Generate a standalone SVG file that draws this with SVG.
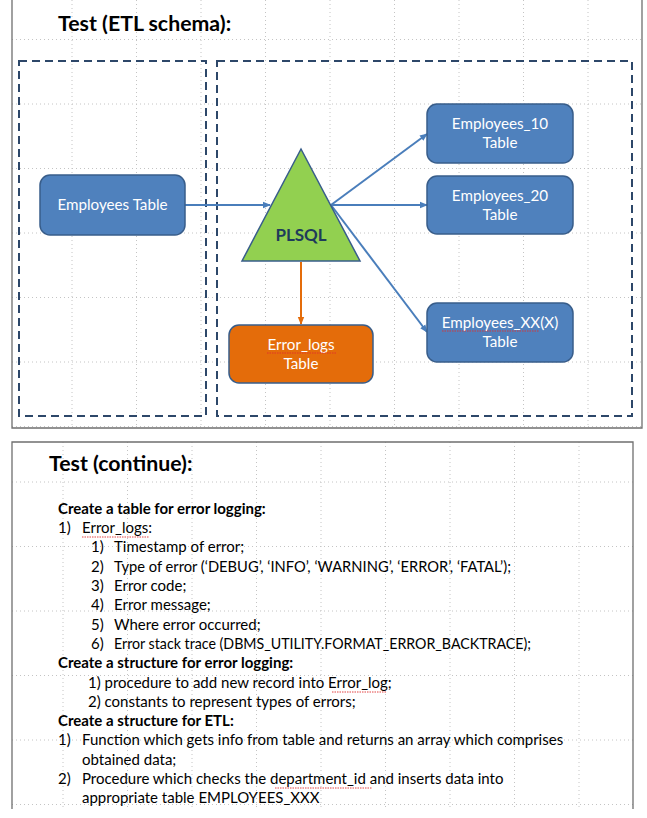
<svg xmlns="http://www.w3.org/2000/svg" width="647" height="818" viewBox="0 0 647 818">
<style>
.grid{stroke:#c4c4c4;stroke-width:1;stroke-dasharray:1 3;fill:none}
.panel{fill:none;stroke:#6f6f6f;stroke-width:1.3}
.dash{fill:none;stroke:#2d4769;stroke-width:2;stroke-dasharray:8 5}
.box{fill:#4f81bd;stroke:#385d8a;stroke-width:1.5}
.obox{fill:#e46c0a;stroke:#385d8a;stroke-width:1.5}
.tri{fill:#92d050;stroke:#385d8a;stroke-width:1.5}
.nt{font-family:Lato,"Liberation Sans",sans-serif;font-size:15.2px;fill:#ffffff;text-anchor:middle}
.title{font-family:Lato,"Liberation Sans",sans-serif;font-size:21.3px;font-weight:bold;fill:#000}
.bt{font-family:Lato,"Liberation Sans",sans-serif;font-size:15px;fill:#000}
.bb{font-weight:bold}
.blue{stroke:#4a7ebb;stroke-width:2;fill:none}
.orange{stroke:#e46c0a;stroke-width:2;fill:none}
.sq{stroke:#e03030;stroke-width:0.9;fill:none;stroke-dasharray:1.5 1}
</style>
<defs>
<marker id="ab" markerWidth="8" markerHeight="8" refX="7" refY="4" orient="auto" markerUnits="userSpaceOnUse"><path d="M0,0.8 L8,4 L0,7.2 Z" fill="#4a7ebb"/></marker>
<marker id="ao" markerWidth="8" markerHeight="8" refX="7" refY="4" orient="auto" markerUnits="userSpaceOnUse"><path d="M0,0.8 L8,4 L0,7.2 Z" fill="#e46c0a"/></marker>
<clipPath id="c1"><rect x="12" y="0" width="630" height="428"/></clipPath>
<clipPath id="c2"><rect x="12" y="442" width="621" height="367"/></clipPath>
</defs>
<rect width="647" height="818" fill="#ffffff"/>
<g id="grid-top" clip-path="url(#c1)">
<path class="grid" d="M72,0V428M136.5,0V428M201,0V428M265.5,0V428M330,0V428M394.5,0V428M459,0V428M523.5,0V428M588,0V428M12,39.5H642M12,104H642M12,168.5H642M12,233H642M12,297.5H642M12,362H642M12,426.5H642"/>
</g>
<g id="grid-bottom" clip-path="url(#c2)">
<path class="grid" d="M63,442V809M127.5,442V809M192,442V809M256.5,442V809M321,442V809M385.5,442V809M450,442V809M514.5,442V809M579,442V809M12,482H633M12,546.5H633M12,611H633M12,675.5H633M12,740H633M12,804.5H633"/>
</g>
<g id="panel-top">
<path class="panel" d="M12,0V428H642V0"/>
<text class="title" x="58" y="31">Test (ETL schema):</text>
<rect class="dash" x="19" y="61" width="187" height="355"/>
<rect class="dash" x="217" y="61" width="415" height="355"/>
</g>
<g id="panel-bottom">
<path class="panel" d="M12,809V442H633V809"/>
</g>
<g id="connectors">
<path class="blue" d="M185,205H270" marker-end="url(#ab)"/>
<path class="blue" d="M331,205L427,134" marker-end="url(#ab)"/>
<path class="blue" d="M331,205H427" marker-end="url(#ab)"/>
<path class="blue" d="M331,205L427,332" marker-end="url(#ab)"/>
<path class="orange" d="M301,262V324" marker-end="url(#ao)"/>
</g>
<g id="employees">
<rect class="box" x="40" y="175" width="145" height="60" rx="10"/>
<text class="nt" x="112.5" y="210">Employees Table</text>
</g>
<g id="plsql">
<polygon class="tri" points="301,149 360,261 242,261"/>
<text x="301" y="241" text-anchor="middle" font-family="Lato,'Liberation Sans',sans-serif" font-size="17px" font-weight="bold" fill="#1f3b5a">PLSQL</text>
</g>
<g id="error-logs">
<rect class="obox" x="229" y="325" width="144" height="58" rx="10"/>
<text class="nt" x="301" y="350">Error_logs</text>
<text class="nt" x="301" y="369">Table</text>
<path class="sq" d="M267,353H336"/>
</g>
<g id="employees-10">
<rect class="box" x="427" y="104" width="146" height="59" rx="10"/>
<text class="nt" x="500" y="129">Employees_10</text>
<text class="nt" x="500" y="148">Table</text>
</g>
<g id="employees-20">
<rect class="box" x="427" y="176" width="146" height="58" rx="10"/>
<text class="nt" x="500" y="201">Employees_20</text>
<text class="nt" x="500" y="220">Table</text>
</g>
<g id="employees-xx">
<rect class="box" x="427" y="303" width="146" height="59" rx="10"/>
<text class="nt" x="500" y="328">Employees_XX(X)</text>
<text class="nt" x="500" y="347">Table</text>
<path class="sq" d="M442,331H539"/>
</g>
<g id="notes">
<text class="title" x="49" y="471">Test (continue):</text>
<text class="bt bb" x="58" y="514">Create a table for error logging:</text>
<text class="bt" x="58" y="533">1)</text><text class="bt" x="82" y="533">Error_logs:</text>
<text class="bt" x="91" y="552">1)</text><text class="bt" x="114" y="552">Timestamp of error;</text>
<text class="bt" x="91" y="572">2)</text><text class="bt" x="114" y="572" textLength="397" lengthAdjust="spacingAndGlyphs">Type of error (‘DEBUG’, ‘INFO’, ‘WARNING’, ‘ERROR’, ‘FATAL’);</text>
<text class="bt" x="91" y="591">3)</text><text class="bt" x="114" y="591">Error code;</text>
<text class="bt" x="91" y="610">4)</text><text class="bt" x="114" y="610">Error message;</text>
<text class="bt" x="91" y="630">5)</text><text class="bt" x="114" y="630">Where error occurred;</text>
<text class="bt" x="91" y="649">6)</text><text class="bt" x="114" y="649" textLength="417" lengthAdjust="spacingAndGlyphs">Error stack trace (DBMS_UTILITY.FORMAT_ERROR_BACKTRACE);</text>
<text class="bt bb" x="58" y="668">Create a structure for error logging:</text>
<text class="bt" x="88" y="688">1) procedure to add new record into Error_log;</text>
<text class="bt" x="88" y="707">2) constants to represent types of errors;</text>
<text class="bt bb" x="58" y="726">Create a structure for ETL:</text>
<text class="bt" x="58" y="745">1)</text><text class="bt" x="82" y="745">Function which gets info from table and returns an array which comprises</text>
<text class="bt" x="82" y="765">obtained data;</text>
<text class="bt" x="58" y="784">2)</text><text class="bt" x="82" y="784">Procedure which checks the department_id and inserts data into</text>
<text class="bt" x="82" y="803">appropriate table EMPLOYEES_XXX</text>
<path class="sq" d="M82,537H149M332,692H386M275,788H372"/>
</g>
</svg>
